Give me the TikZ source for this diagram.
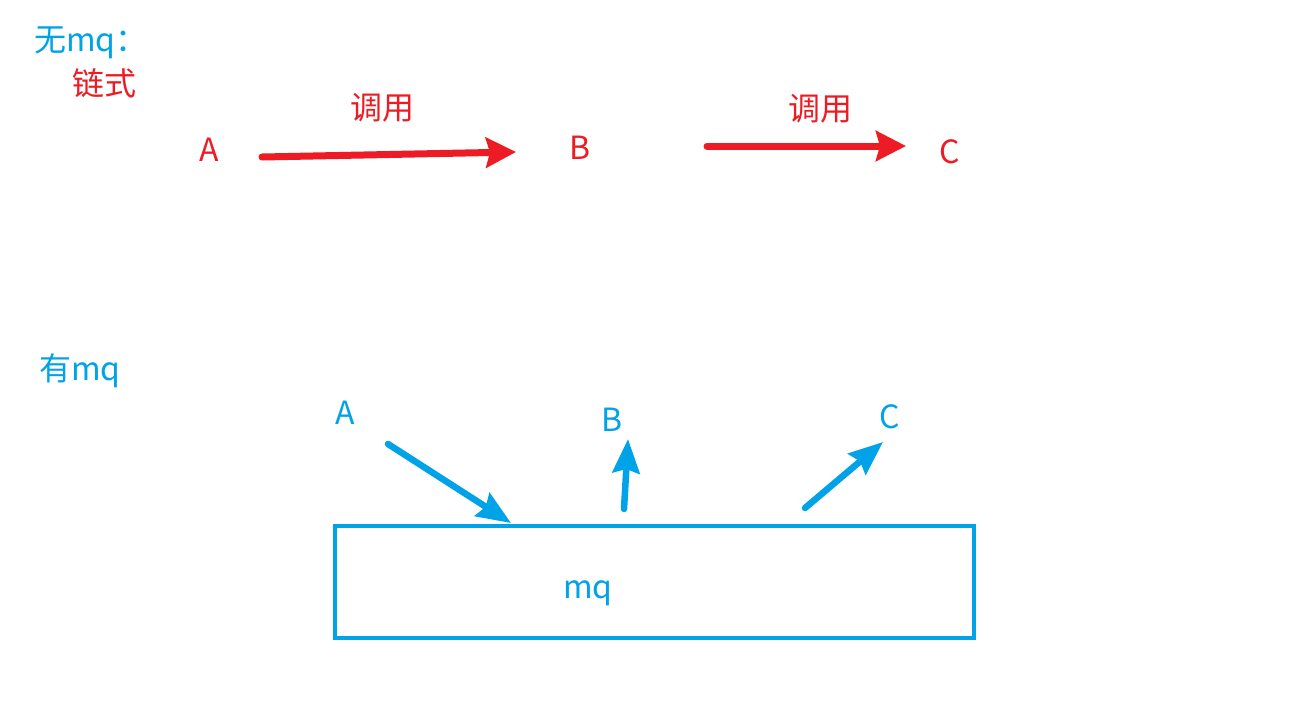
\documentclass[tikz,border=0pt]{standalone}
\usepackage{fontspec}
\setmainfont{Noto Sans CJK SC}
\usetikzlibrary{arrows.meta}
\definecolor{pred}{HTML}{ED1C24}
\definecolor{pblue}{HTML}{00A2E8}
\begin{document}
\begin{tikzpicture}[x=1pt,y=-1pt,
  lbl/.style={inner sep=0pt,font=\fontsize{32}{36}\selectfont},
  rarr/.style={pred,line width=7pt,line cap=round,-{Stealth[length=30pt,width=30pt,inset=4pt]}},
  barr/.style={pblue,line width=6.5pt,line cap=round,-{Stealth[length=34pt,width=27pt,inset=4pt]}}]
\useasboundingbox (0,0) rectangle (1289,702);
\fill[white] (0,0) rectangle (1289,702);
% top
\node[lbl,pblue,anchor=west] (t1) at (34,43) {无mq：};
\node[lbl,pred,anchor=west] (t2) at (72,83) {链式};
\node[lbl,pred] (ra) at (209,150) {A};
\node[lbl,pred] (rb) at (580,148) {B};
\node[lbl,pred] (rc) at (950,152) {C};
\node[lbl,pred] (l1) at (382,108) {调用};
\node[lbl,pred] (l2) at (820,109) {调用};
\coordinate (a1s) at (262,157);
\coordinate (a1e) at (516,152);
\coordinate (a2s) at (707,146);
\coordinate (a2e) at (906,146);
\draw[rarr] (a1s) -- (a1e);
\draw[rarr] (a2s) -- (a2e);
% bottom
\node[lbl,pblue,anchor=west] (t3) at (39,371) {有mq};
\node[lbl,pblue] (ba) at (345,413) {A};
\node[lbl,pblue] (bb) at (612,420) {B};
\node[lbl,pblue] (bc) at (890,417) {C};
\node[draw=pblue,line width=4pt,minimum width=639pt,minimum height=112pt,inner sep=0pt,anchor=north west] (mq) at (333,524) {};
\node[lbl,pblue] (mqt) at (588,593) {mq};
\coordinate (b1s) at (388,444);
\coordinate (b1e) at (511,523);
\coordinate (b2s) at (624,509);
\coordinate (b2e) at (628,439);
\coordinate (b3s) at (805,508);
\coordinate (b3e) at (883,442);
\draw[barr] (b1s) -- (b1e);
\draw[barr] (b2s) -- (b2e);
\draw[barr] (b3s) -- (b3e);
\end{tikzpicture}
\end{document}
